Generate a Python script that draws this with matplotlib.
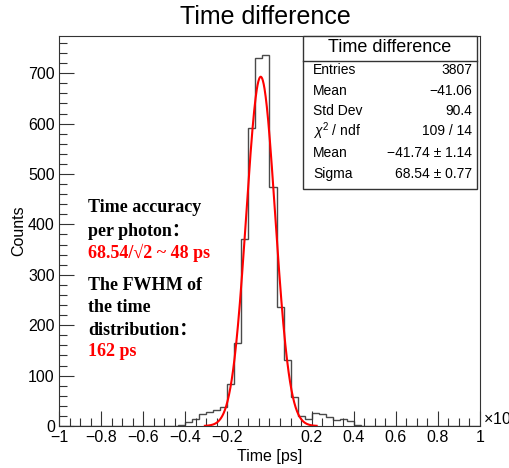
import numpy as np
import matplotlib
matplotlib.use("Agg")
import matplotlib.pyplot as plt
from matplotlib.patches import Rectangle

# ---- data (x in units of 10^3 ps) ----
bin_edges = np.linspace(-1.0, 1.0, 61)
counts = [0, 0, 0, 0, 0, 0, 0, 0, 0, 0,
          0, 0, 0, 0, 0, 0, 0, 2, 8, 14,
          24, 28, 31, 38, 83, 165, 372, 591, 731, 737,
          475, 237, 131, 58, 20, 14, 25, 23, 18, 12,
          14, 9, 1, 0, 0, 0, 0, 0, 0, 0,
          0, 0, 0, 0, 0, 0, 0, 0, 0, 0]
fit_mean = -41.74      # ps
fit_sigma = 68.54      # ps
fit_const = 693.0
fit_range = (-307.0, 224.0)

xtick_vals = [-1, -0.8, -0.6, -0.4, -0.2, 0.2, 0.4, 0.6, 0.8, 1]
xtick_labels = ["\u22121", "\u22120.8", "\u22120.6", "\u22120.4", "\u22120.2", "0.2", "0.4", "0.6", "0.8", "1"]
ytick_vals = [0, 100, 200, 300, 400, 500, 600, 700]

stats_labels = ["Entries", "Mean", "Std Dev", "$\\chi^{2}$ / ndf", "Mean", "Sigma"]
stats_values = ["3807", "\u221241.06", "90.4", "109 / 14", "\u221241.74 \u00b1 1.14", "68.54 \u00b1 0.77"]

plt.rcParams['font.family'] = ['Liberation Sans', 'DejaVu Sans']
plt.rcParams['mathtext.fontset'] = 'custom'
plt.rcParams['mathtext.rm'] = 'Liberation Sans'
plt.rcParams['mathtext.it'] = 'Liberation Sans:italic'

W, H = 510, 468
fig = plt.figure(figsize=(W / 100, H / 100), dpi=100)
L, R, T, B = 59, 480, 36, 426
ax = fig.add_axes([L / W, 1 - B / H, (R - L) / W, (B - T) / H])

ax.stairs(counts, bin_edges, color='#4a4a4a', linewidth=1.0)
xf = np.linspace(fit_range[0], fit_range[1], 400)
yf = fit_const * np.exp(-0.5 * ((xf - fit_mean) / fit_sigma) ** 2)
ax.plot(xf / 1000.0, yf, color='red', linewidth=1.5)

ax.set_xlim(-1, 1)
ax.set_ylim(0, 1.05 * max(counts))
ax.set_xticks(xtick_vals)
ax.set_xticklabels(xtick_labels)
ax.set_xticks(np.arange(-1, 1.0001, 0.05), minor=True)
ax.set_yticks(ytick_vals)
ax.set_yticks(np.arange(0, 780, 20), minor=True)
ax.tick_params(axis='both', which='both', direction='in', top=False, right=False,
               labelsize=11.5, color='#333333', width=0.8)
ax.tick_params(axis='x', which='major', length=11, pad=3)
ax.tick_params(axis='x', which='minor', length=6)
ax.tick_params(axis='y', which='major', length=11, pad=3)
ax.tick_params(axis='y', which='minor', length=6)
for s in ax.spines.values():
    s.set_color('#333333')
    s.set_linewidth(0.8)

ax.set_xlabel("Time [ps]", fontsize=11.5, labelpad=3)
ax.set_ylabel("Counts", fontsize=11.5, labelpad=1)

fig.text(265 / W, 1 - 17 / H, "Time difference", ha='center', va='center', fontsize=18)
fig.text(483 / W, 1 - 419 / H, "\u00d710$^{3}$", ha='left', va='center', fontsize=11.5)

# stats box (figure pixel coords)
bx0, bx1, by0, by1 = 303, 477, 36, 189
fig.patches.append(Rectangle((bx0 / W, 1 - by1 / H), (bx1 - bx0) / W, (by1 - by0) / H,
                             transform=fig.transFigure, facecolor='white',
                             edgecolor='#333333', linewidth=1.0, zorder=5))
fig.add_artist(plt.Line2D([bx0 / W, bx1 / W], [1 - 61 / H, 1 - 61 / H],
                          transform=fig.transFigure, color='#333333', linewidth=1.0, zorder=6))
fig.text((bx0 + bx1) / 2 / W, 1 - 48 / H, "Time difference", ha='center', va='center',
         fontsize=13, zorder=7)
row_y = [70, 91, 111, 131, 153, 174]
for lab, val, y in zip(stats_labels, stats_values, row_y):
    fig.text(313 / W, 1 - y / H, lab, ha='left', va='center', fontsize=10, zorder=7)
    fig.text(472 / W, 1 - y / H, val, ha='right', va='center', fontsize=10, zorder=7)

# annotation
serif = ['Liberation Serif', 'Noto Sans CJK SC', 'DejaVu Serif']
ann = [("Time accuracy", 'black', 208), ("per photon\uff1a", 'black', 231),
       ("68.54/\u221a2 ~ 48 ps", 'red', 253), ("The FWHM of", 'black', 285),
       ("the time", 'black', 308), ("distribution\uff1a", 'black', 330),
       ("162 ps", 'red', 352)]
for txt, col, y in ann:
    fig.text(88 / W, 1 - y / H, txt, ha='left', va='center', fontsize=13,
             fontweight='bold', color=col, family=serif)

fig.savefig("out.png", dpi=100)
